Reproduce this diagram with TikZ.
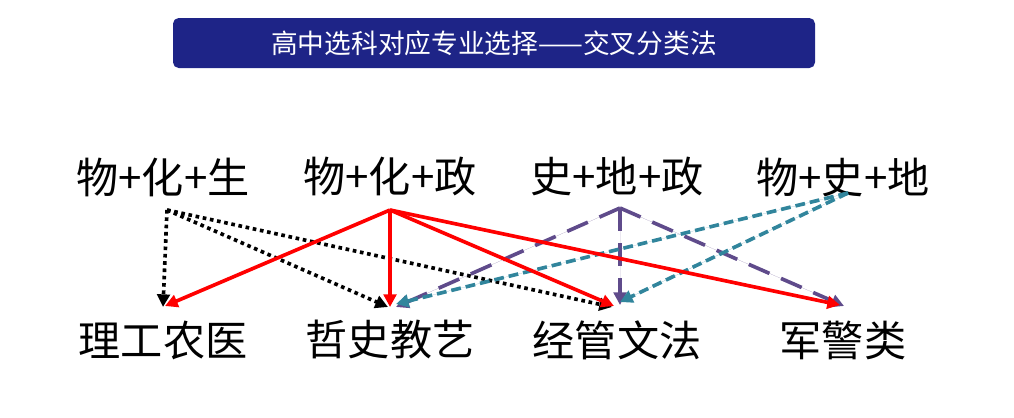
\documentclass[tikz,border=0pt]{standalone}
\usepackage{fontspec}
\newfontfamily\cjk{Noto Sans CJK SC}
\usetikzlibrary{arrows.meta}
\definecolor{tb}{HTML}{1E2487}
\definecolor{pu}{HTML}{5F4B8B}
\definecolor{te}{HTML}{31859C}
\tikzset{lab/.style={font=\cjk\fontsize{30}{32}\selectfont,inner sep=0pt},
 blk/.style={line width=2.6pt,dash pattern=on 2.6pt off 2.6pt,-{Triangle[length=9pt,width=9pt]}},
 red/.style={line width=2.6pt,draw=red,-{Triangle[length=9pt,width=9pt]},fill=red},
 pur/.style={line width=2.6pt,draw=pu,dash pattern=on 16pt off 9pt,-{Triangle[length=9pt,width=9pt]},fill=pu},
 tea/.style={line width=2.6pt,draw=te,dash pattern=on 7pt off 3.5pt,-{Triangle[length=9pt,width=9pt]},fill=te}}
\begin{document}
\begin{tikzpicture}[x=0.025cm,y=-0.025cm]
\useasboundingbox (0,0) rectangle (1014,417);
\node[fill=tb,rounded corners=4pt,minimum width=642*0.025cm,minimum height=50*0.025cm,text=white,font=\cjk\fontsize{19}{21}\selectfont] (t) at (494,43) {高中选科对应专业选择——交叉分类法};
\node[lab] (s1) at (163,177) {物+化+生};
\node[lab] (s2) at (390,177) {物+化+政};
\node[lab] (s3) at (617,177) {史+地+政};
\node[lab] (s4) at (843,177) {物+史+地};
\node[lab] (m1) at (163,340) {理工农医};
\node[lab] (m2) at (390,340) {哲史教艺};
\node[lab] (m3) at (617,340) {经管文法};
\node[lab] (m4) at (843,340) {军警类};
\coordinate (A) at (167,210); \coordinate (B) at (390,210);
\coordinate (C) at (620,208); \coordinate (D) at (848,193);
\coordinate (a1) at (163,307); \coordinate (a2) at (388,307); \coordinate (a3) at (612,307);
\coordinate (b1) at (165,306); \coordinate (b2) at (390,307); \coordinate (b3) at (614,306); \coordinate (b4) at (840,305);
\coordinate (c2) at (396,307); \coordinate (c3) at (620,305); \coordinate (c4) at (844,306);
\coordinate (d2) at (396,304); \coordinate (d3) at (620,302);
\draw[blk] (A)--(a1); \draw[blk] (A)--(a2); \draw[blk] (A)--(a3);
\draw[pur] (C)--(c2); \draw[pur] (C)--(c3); \draw[pur] (C)--(c4);
\draw[tea] (D)--(d2); \draw[tea] (D)--(d3);
\draw[red] (B)--(b1); \draw[red] (B)--(b2); \draw[red] (B)--(b3); \draw[red] (B)--(b4);
\end{tikzpicture}
\end{document}
